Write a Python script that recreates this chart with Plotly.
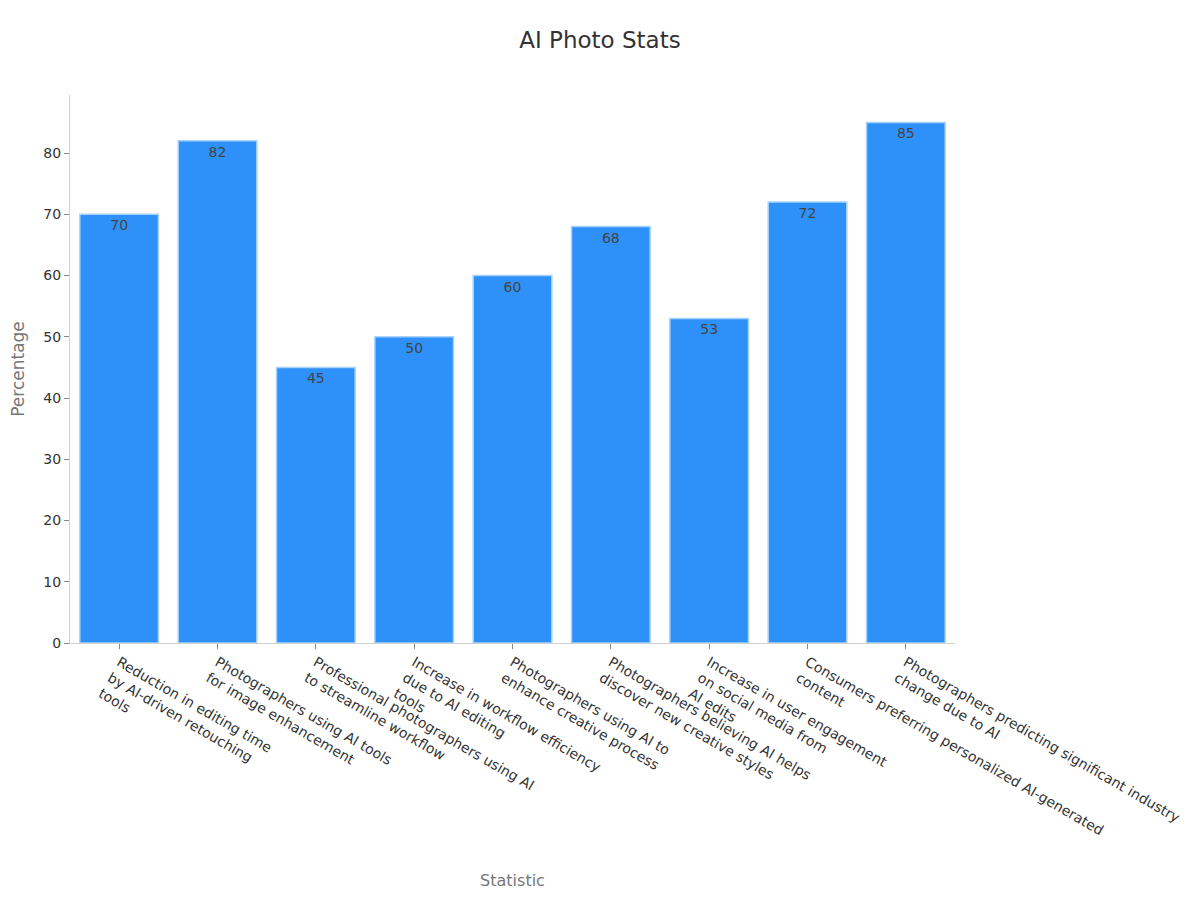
import plotly.graph_objects as go

statistics = [
    "Reduction in editing time<br>by AI-driven retouching<br>tools",
    "Photographers using AI tools<br>for image enhancement",
    "Professional photographers using AI<br>to streamline workflow",
    "Increase in workflow efficiency<br>due to AI editing<br>tools",
    "Photographers using AI to<br>enhance creative process",
    "Photographers believing AI helps<br>discover new creative styles",
    "Increase in user engagement<br>on social media from<br>AI edits",
    "Consumers preferring personalized AI-generated<br>content",
    "Photographers predicting significant industry<br>change due to AI",
]
percentages = [70, 82, 45, 50, 60, 68, 53, 72, 85]

fig = go.Figure()
fig.add_trace(go.Bar(
    x=statistics,
    y=percentages,
    text=percentages,
    textposition="inside",
    insidetextanchor="end",
    textfont=dict(color="#444444", size=14),
    marker=dict(color="#2E91F9", line=dict(color="#A9D2FA", width=1.5)),
))

# page body adds an 8px offset, so margins are shifted to compensate
fig.update_layout(
    width=1200, height=900,
    font=dict(family="DejaVu Sans", color="#333333", size=14),
    title=dict(text="AI Photo Stats", x=0.4933, xanchor="center", y=0.9644, yanchor="middle",
               font=dict(size=23, color="#333333")),
    plot_bgcolor="white",
    paper_bgcolor="white",
    margin=dict(l=62, r=253, t=87, b=265),
    showlegend=False,
    bargap=0.2,
)
fig.update_xaxes(
    title=dict(text="Statistic", font=dict(size=16, color="#777777"), standoff=21),
    tickangle=30,
    showline=True, linecolor="#D0D0D0", linewidth=1,
    ticks="outside", tickcolor="#888888", ticklen=5,
    showgrid=False, automargin=False,
)
fig.update_yaxes(
    title=dict(text="Percentage", font=dict(size=17, color="#777777"), standoff=20),
    showline=True, linecolor="#D0D0D0", linewidth=1,
    ticks="outside", tickcolor="#888888", ticklen=5,
    showgrid=False, zeroline=False, automargin=False,
)

fig.write_html("out.html")
